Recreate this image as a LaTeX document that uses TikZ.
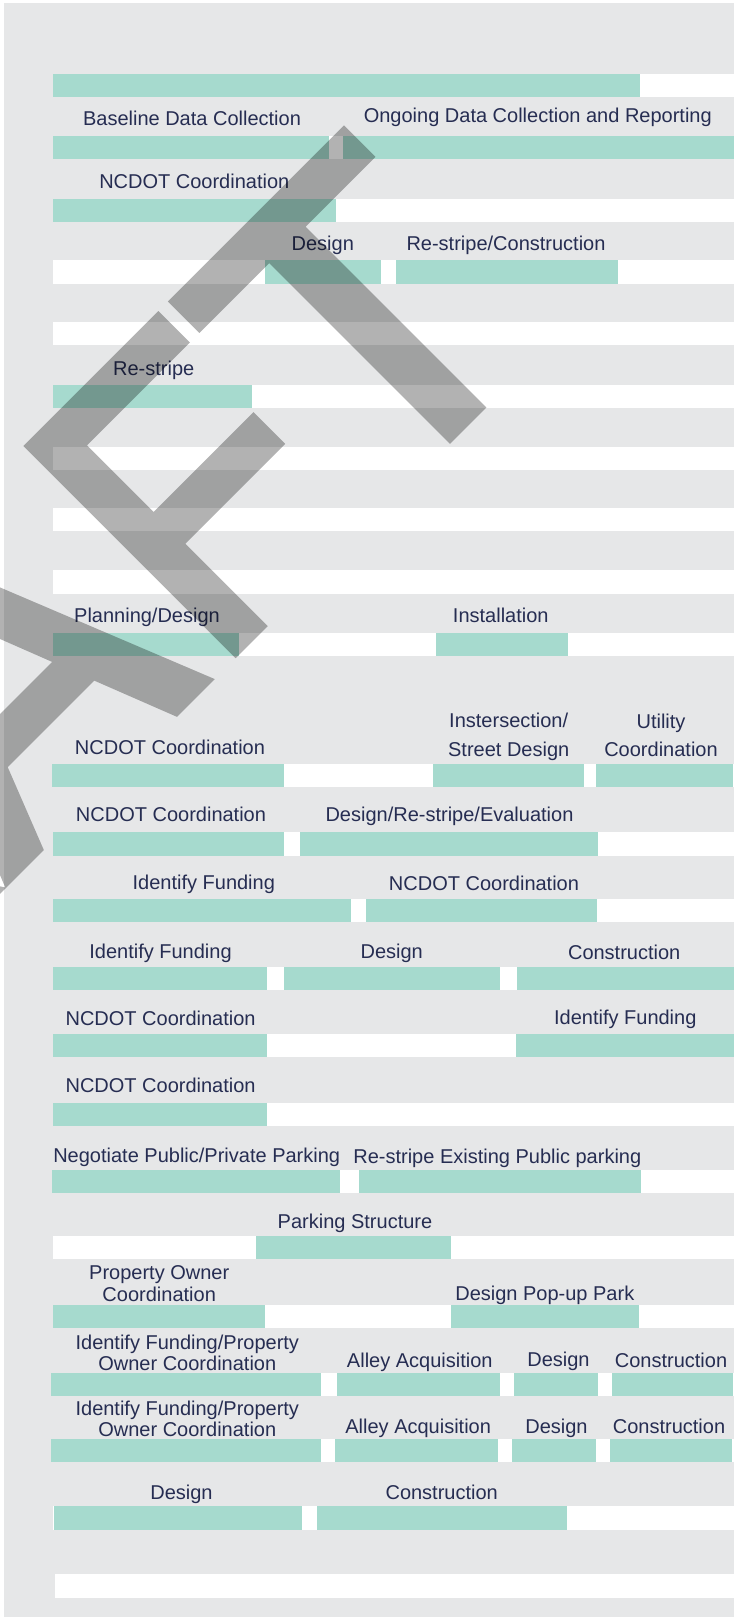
\documentclass[tikz,border=0pt]{standalone}
\usepackage{fontspec}
\setmainfont{Liberation Sans}
\newfontfamily\wmfont[FakeBold=3]{Liberation Sans}
\definecolor{bggray}{HTML}{E6E7E8}
\definecolor{barteal}{HTML}{A6DACE}
\definecolor{labelnavy}{HTML}{262D52}

\begin{document}
\begin{tikzpicture}[x=1pt, y=-1pt,
	every node/.style={font=\fontsize{20}{22}\selectfont, text=labelnavy, inner sep=0pt, outer sep=0pt, anchor=base},
	track/.style={fill=white},
	task/.style={fill=barteal},
	watermark/.style={font=\wmfont\fontsize{418}{418}\selectfont, text=black, anchor=base west, rotate=45}]
	\useasboundingbox (0,0) rectangle (742,1618);
	\clip (0,0) rectangle (742,1618);
	\fill[white] (0,0) rectangle (742,1618);
	\fill[bggray] (4,3) rectangle (734,1617);
	\foreach \y in {74,135.7,199,260.3,321.7,385,446.7,507.7,570.3,632.7,764,832.3,899,967,1034,1102.7,1170,1236,1305,1372.7,1439,1506.3}
		\fill[track] (53.3,\y) rectangle (734,\y+23.3);
	\fill[track] (55,1574.3) rectangle (734,1597.6);
	\foreach \y/\a/\b in {74/53.3/639.7, 135.7/53.3/329.3, 135.7/343/734, 199/53.3/335.7,
		260.3/265.3/381.3, 260.3/395.7/618, 385/53.3/252.3, 632.7/53.3/239, 632.7/435.7/567.7,
		764/52.3/283.7, 764/433/584.3, 764/596/733, 832.3/53.3/284.3, 832.3/300.3/597.7,
		899/53.3/351, 899/365.7/597, 967/53.3/267, 967/284/500.3, 967/517/734,
		1034/53.3/267, 1034/516/734, 1102.7/53.3/267, 1170/52.3/340, 1170/359/641,
		1236/256.3/451, 1305/53.3/265, 1305/450.7/639.3,
		1372.7/51/321, 1372.7/337/499.7, 1372.7/514/597.7, 1372.7/612/733,
		1439/51/321, 1439/335.3/498, 1439/512.3/595.7, 1439/610/732,
		1506.3/54/301.7, 1506.3/317/567}
		\fill[task] (\a,\y) rectangle (\b,\y+23.3);

	\node (baseline) at (192,125.7) {Baseline Data Collection};
	\node (ongoing) at (537.8,122.7) {Ongoing Data Collection and Reporting};
	\node (ncdotA) at (194.3,188.3) {NCDOT Coordination};
	\node (designA) at (322.8,250) {Design};
	\node (restripeA) at (506,250) {Re-stripe/Construction};
	\node (restripeB) at (153.7,375.3) {Re-stripe};
	\node (planning) at (147,622.3) {Planning/Design};
	\node (install) at (500.8,622.7) {Installation};
	\node (ncdotB) at (170,754) {NCDOT Coordination};
	\node (streetA) at (508.7,727.7) {Instersection/};
	\node (streetB) at (508.7,756.7) {Street Design};
	\node (utilityA) at (661,728.3) {Utility};
	\node (utilityB) at (661,756.7) {Coordination};
	\node (ncdotC) at (171,821.7) {NCDOT Coordination};
	\node (evaluate) at (449.5,821.7) {Design/Re-stripe/Evaluation};
	\node (fundA) at (203.8,889.3) {Identify Funding};
	\node (ncdotD) at (484,890.7) {NCDOT Coordination};
	\node (fundB) at (160.5,958.3) {Identify Funding};
	\node (designB) at (391.7,958.3) {Design};
	\node (buildA) at (624.2,959) {Construction};
	\node (ncdotE) at (160.6,1025) {NCDOT Coordination};
	\node (fundC) at (625.3,1024) {Identify Funding};
	\node (ncdotF) at (160.6,1092.7) {NCDOT Coordination};
	\node (negotiate) at (196.7,1162.3) {Negotiate Public/Private Parking};
	\node (existing) at (497.3,1163.3) {Re-stripe Existing Public parking};
	\node (structure) at (355,1228.3) {Parking Structure};
	\node (ownerA) at (159.2,1279.3) {Property Owner};
	\node (ownerB) at (159.2,1301) {Coordination};
	\node (popup) at (544.8,1300) {Design Pop-up Park};
	\node (fundD) at (187.3,1349.3) {Identify Funding/Property};
	\node (fundE) at (187.3,1370) {Owner Coordination};
	\node (alleyA) at (419.8,1367.7) {Alley Acquisition};
	\node (designC) at (558.5,1366.7) {Design};
	\node (buildB) at (671,1367.3) {Construction};
	\node (fundF) at (187.3,1415) {Identify Funding/Property};
	\node (fundG) at (187.3,1436) {Owner Coordination};
	\node (alleyB) at (418.2,1433.3) {Alley Acquisition};
	\node (designD) at (556.5,1433.3) {Design};
	\node (buildC) at (669,1433.3) {Construction};
	\node (designE) at (181.5,1499) {Design};
	\node (buildD) at (441.7,1499) {Construction};

	\begin{scope}[transparency group, opacity=0.3]
		\foreach \ch/\s/\k in {D/-1219.2/1, R/-917.4/1, A/-615.6/1, F/-323.4/0.88, T/-97.5/1}
			\node[watermark, xscale=\k] (wm\ch) at ({442.5+0.7071*\s},{442.5-0.7071*\s}) {\ch};
	\end{scope}
\end{tikzpicture}
\end{document}
